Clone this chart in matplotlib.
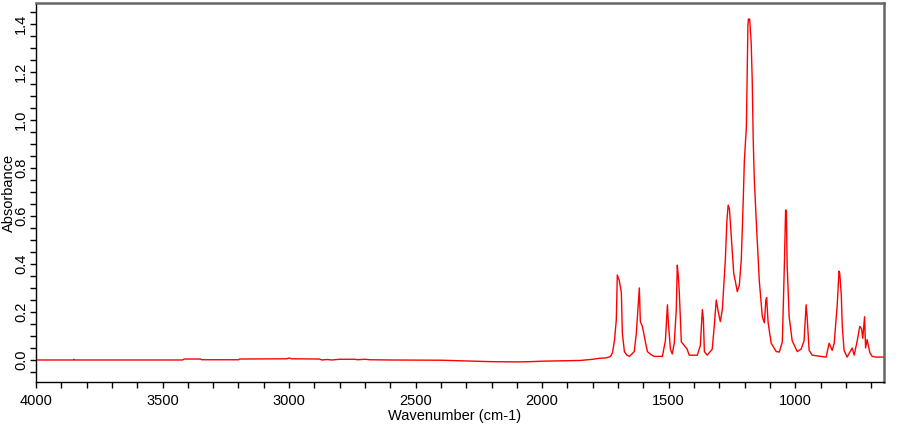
import matplotlib
matplotlib.use('Agg')
import matplotlib.pyplot as plt
from matplotlib.ticker import MultipleLocator, FixedLocator

# IR spectrum: wavenumber (cm-1) and absorbance
wavenumber = [4000, 3852, 3850, 3848, 3420, 3415, 3350, 3345, 3200, 3195,
              3010, 3000, 2990, 2880, 2870, 2850, 2830, 2800, 2740, 2730,
              2700, 2680, 2600, 2400, 2300, 2200, 2100, 2050, 2000, 1900,
              1850, 1800, 1774, 1745, 1730, 1722, 1714, 1707, 1703, 1700,
              1695, 1687, 1683, 1675, 1665, 1655, 1636, 1628, 1620, 1616,
              1612, 1604, 1592, 1584, 1570, 1557, 1525, 1513, 1505, 1501,
              1493, 1486, 1478, 1470, 1466, 1462, 1458, 1450, 1438, 1427,
              1419, 1387, 1375, 1367, 1363, 1359, 1348, 1328, 1320, 1312,
              1304, 1296, 1288, 1280, 1276, 1270, 1265, 1260, 1255, 1249,
              1243, 1237, 1229, 1221, 1213, 1209, 1205, 1201, 1193, 1189,
              1187, 1185, 1180, 1174, 1170, 1166, 1162, 1154, 1142, 1130,
              1122, 1116, 1113, 1107, 1095, 1075, 1063, 1051, 1043, 1038,
              1035, 1032, 1024, 1012, 992, 977, 965, 957, 953, 945,
              933, 878, 866, 854, 846, 834, 827, 824, 818, 814,
              807, 795, 775, 767, 755, 745, 738, 733, 726, 722,
              716, 705, 696, 680, 650]
absorbance = [0.000, 0.000, 0.003, 0.000, 0.000, 0.004, 0.004, 0.001, 0.001, 0.004,
              0.005, 0.008, 0.005, 0.004, 0.000, 0.002, 0.000, 0.003, 0.003, 0.001,
              0.003, 0.001, 0.000, -0.001, -0.004, -0.007, -0.008, -0.007, -0.005, -0.003,
              -0.002, 0.003, 0.007, 0.009, 0.015, 0.030, 0.083, 0.167, 0.354, 0.345,
              0.330, 0.280, 0.110, 0.035, 0.020, 0.015, 0.035, 0.110, 0.240, 0.300,
              0.160, 0.140, 0.075, 0.035, 0.022, 0.015, 0.015, 0.080, 0.230, 0.150,
              0.045, 0.025, 0.070, 0.210, 0.395, 0.350, 0.280, 0.075, 0.060, 0.045,
              0.020, 0.020, 0.060, 0.210, 0.170, 0.035, 0.020, 0.045, 0.140, 0.250,
              0.200, 0.160, 0.210, 0.350, 0.420, 0.580, 0.645, 0.630, 0.550, 0.450,
              0.360, 0.330, 0.285, 0.310, 0.420, 0.550, 0.680, 0.830, 0.970, 1.240,
              1.390, 1.420, 1.420, 1.320, 1.170, 0.920, 0.760, 0.580, 0.330, 0.180,
              0.155, 0.250, 0.260, 0.155, 0.070, 0.035, 0.033, 0.075, 0.390, 0.625,
              0.620, 0.400, 0.180, 0.080, 0.035, 0.045, 0.080, 0.230, 0.180, 0.040,
              0.020, 0.012, 0.070, 0.040, 0.070, 0.230, 0.370, 0.360, 0.270, 0.140,
              0.040, 0.012, 0.050, 0.020, 0.080, 0.140, 0.130, 0.090, 0.180, 0.050,
              0.085, 0.030, 0.015, 0.012, 0.012]

x_major = [4000, 3500, 3000, 2500, 2000, 1500, 1000]
y_major = [0.0, 0.2, 0.4, 0.6, 0.8, 1.0, 1.2, 1.4]

plt.rcParams['font.family'] = ['Liberation Sans', 'DejaVu Sans']

fig = plt.figure(figsize=(9, 4.25), dpi=100)
ax = fig.add_axes([0.04, 0.101, 0.942, 0.892])
ax.plot(wavenumber, absorbance, color='#ff0000', linewidth=1.0)

ax.set_xlim(4000, 650)
ax.set_ylim(-0.092, 1.487)

ax.xaxis.set_major_locator(FixedLocator(x_major))
ax.xaxis.set_minor_locator(MultipleLocator(100))
ax.yaxis.set_major_locator(FixedLocator(y_major))
ax.yaxis.set_minor_locator(MultipleLocator(0.05))
ax.set_yticklabels(['%.1f' % v for v in y_major], rotation=90, va='center')

ax.tick_params(which='both', direction='out', length=4.3, width=1, color='black',
               labelsize=10.5)
ax.tick_params(axis='x', which='both', pad=4)
ax.tick_params(axis='y', which='both', pad=1.5)

for side in ['top', 'right']:
    ax.spines[side].set_color('#666666')
    ax.spines[side].set_linewidth(1.8)
for side in ['left', 'bottom']:
    ax.spines[side].set_color('black')
    ax.spines[side].set_linewidth(1.0)

ax.set_xlabel('Wavenumber (cm-1)', fontsize=10.5)
ax.xaxis.set_label_coords(0.494, -0.07)
ax.set_ylabel('Absorbance', fontsize=10.5)
ax.yaxis.set_label_coords(-0.024, 0.5)

plt.savefig('out.png')
plt.close()
